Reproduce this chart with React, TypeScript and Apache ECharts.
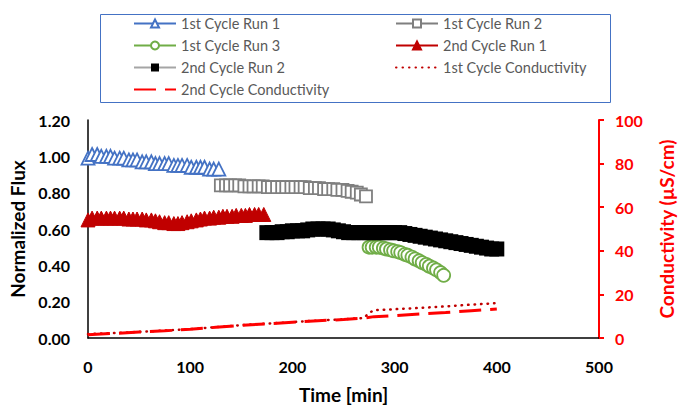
import React, { useEffect, useRef } from "react";
import * as echarts from "echarts";

// ---- Data ----
const run1Times = [0, 4, 9, 13, 18, 22, 26, 31, 35, 40, 44, 48, 53, 57, 62, 66, 70, 75, 79, 84, 88, 92, 97, 101, 106, 110, 114, 119, 123, 128];
const run1Flux = [0.99, 1.01, 1.01, 1.0, 1.0, 1.0, 0.99, 0.99, 0.99, 0.98, 0.98, 0.98, 0.97, 0.97, 0.97, 0.96, 0.96, 0.96, 0.96, 0.95, 0.95, 0.95, 0.95, 0.94, 0.94, 0.94, 0.94, 0.93, 0.93, 0.93];

const run2Times = [130, 135, 139, 144, 148, 153, 158, 162, 167, 171, 176, 180, 185, 190, 194, 199, 203, 208, 212, 217, 222, 226, 231, 235, 240, 244, 249, 254, 258, 263, 267, 272];
const run2Flux = [0.84, 0.84, 0.84, 0.84, 0.84, 0.835, 0.835, 0.835, 0.835, 0.835, 0.83, 0.83, 0.83, 0.83, 0.83, 0.83, 0.83, 0.83, 0.83, 0.825, 0.825, 0.825, 0.82, 0.82, 0.82, 0.815, 0.815, 0.81, 0.805, 0.8, 0.79, 0.78];

const run3Times = [275, 278, 282, 285, 289, 292, 296, 299, 303, 306, 310, 313, 317, 320, 324, 327, 331, 334, 338, 341, 345, 348];
const run3Flux = [0.5, 0.5, 0.5, 0.5, 0.495, 0.49, 0.485, 0.48, 0.475, 0.47, 0.46, 0.455, 0.445, 0.435, 0.425, 0.415, 0.405, 0.395, 0.385, 0.375, 0.36, 0.345];

const run4Times = [0, 4, 9, 13, 18, 22, 26, 31, 35, 40, 44, 48, 53, 57, 62, 66, 70, 75, 79, 84, 88, 92, 97, 101, 106, 110, 114, 119, 123, 128, 132, 136, 141, 145, 150, 154, 158, 163, 167, 172];
const run4Flux = [0.65, 0.66, 0.66, 0.66, 0.66, 0.66, 0.66, 0.66, 0.66, 0.655, 0.655, 0.655, 0.655, 0.65, 0.65, 0.645, 0.64, 0.635, 0.635, 0.63, 0.63, 0.635, 0.64, 0.645, 0.65, 0.655, 0.66, 0.66, 0.665, 0.665, 0.67, 0.67, 0.67, 0.675, 0.675, 0.675, 0.68, 0.68, 0.68, 0.68];

const run5Times = [175, 180, 185, 190, 195, 200, 205, 210, 215, 220, 225, 230, 235, 240, 245, 250, 255, 260, 265, 270, 275, 280, 285, 290, 295, 300, 305, 310, 315, 320, 325, 330, 335, 340, 345, 350, 355, 360, 365, 370, 375, 380, 385, 390, 395, 400];
const run5Flux = [0.58, 0.58, 0.58, 0.585, 0.585, 0.59, 0.59, 0.59, 0.595, 0.6, 0.6, 0.6, 0.6, 0.595, 0.59, 0.585, 0.58, 0.58, 0.58, 0.58, 0.58, 0.58, 0.58, 0.58, 0.58, 0.58, 0.58, 0.575, 0.57, 0.565, 0.56, 0.555, 0.55, 0.545, 0.54, 0.535, 0.53, 0.525, 0.52, 0.515, 0.51, 0.505, 0.5, 0.495, 0.49, 0.49];

const cond1Times = [0, 25, 50, 75, 100, 125, 150, 175, 200, 225, 250, 270, 275, 280, 300, 325, 350, 375, 400];
const cond1Values = [1.8, 2.3, 2.8, 3.4, 4.1, 5.0, 5.9, 6.6, 7.3, 8.0, 8.6, 9.2, 11.5, 12.8, 13.2, 13.8, 14.5, 15.3, 16.0];

const cond2Times = [0, 25, 50, 75, 100, 125, 150, 175, 200, 225, 250, 270, 280, 300, 325, 350, 375, 400];
const cond2Values = [1.5, 2.1, 2.7, 3.3, 4.0, 4.9, 5.8, 6.5, 7.2, 7.9, 8.5, 9.1, 9.8, 10.3, 11.0, 11.7, 12.5, 13.3];

const seriesNames = [
  "1st Cycle Run 1",
  "1st Cycle Run 2",
  "1st Cycle Run 3",
  "2nd Cycle Run 1",
  "2nd Cycle Run 2",
  "1st Cycle Conductivity",
  "2nd Cycle Conductivity",
];

const xTicks = { min: 0, max: 500, interval: 100 };
const fluxTicks = { min: 0, max: 1.2, interval: 0.2 };
const condTicks = { min: 0, max: 100, interval: 20 };

const pairs = (xs: number[], ys: number[]) => xs.map((x, i) => [x, ys[i]]);

const FONT = "Lato, 'Open Sans', sans-serif";

export default function App() {
  const ref = useRef<HTMLDivElement>(null);

  useEffect(() => {
    if (!ref.current) return;
    const chart = echarts.init(ref.current, undefined, { renderer: "svg" });

    const legendCommon = {
      orient: "vertical" as const,
      top: 16,
      padding: 0,
      itemWidth: 42,
      itemHeight: 10,
      itemGap: 7,
      textStyle: { color: "#595959", fontSize: 14.5, fontFamily: FONT, lineHeight: 15 },
    };

    const option: any = {
      animation: false,
      backgroundColor: "#ffffff",
      textStyle: { fontFamily: FONT },
      grid: { left: 88, right: 83, top: 120, bottom: 67, containLabel: false, outerBoundsMode: "none" },
      legend: [
        { ...legendCommon, left: 133, data: [seriesNames[0], seriesNames[2], seriesNames[4], seriesNames[6]] },
        { ...legendCommon, left: 395, data: [seriesNames[1], seriesNames[3], seriesNames[5]] },
      ],
      graphic: [
        {
          type: "rect",
          left: 98,
          top: 12,
          shape: { width: 510, height: 88 },
          style: { fill: "none", stroke: "#4472C4", lineWidth: 1 },
          silent: true,
        },
      ],
      xAxis: {
        type: "value",
        ...xTicks,
        name: "Time [min]",
        nameLocation: "middle",
        nameGap: 47,
        nameTextStyle: { fontSize: 19, fontWeight: "bold", color: "#000", fontFamily: FONT },
        axisLine: { show: true, onZero: false, lineStyle: { color: "#000", width: 1.5 } },
        axisTick: { show: false },
        splitLine: { show: false },
        axisLabel: { fontSize: 16, fontWeight: "bold", color: "#000", margin: 20, fontFamily: FONT },
      },
      yAxis: [
        {
          type: "value",
          ...fluxTicks,
          position: "left",
          name: "Normalized Flux",
          nameLocation: "middle",
          nameGap: 60,
          nameTextStyle: { fontSize: 19, fontWeight: "bold", color: "#000", fontFamily: FONT },
          axisLine: { show: true, lineStyle: { color: "#000", width: 1.5 } },
          axisTick: { show: false },
          splitLine: { show: false },
          axisLabel: {
            fontSize: 16,
            fontWeight: "bold",
            color: "#000",
            margin: 18,
            fontFamily: FONT,
            formatter: (v: number) => v.toFixed(2),
          },
        },
        {
          type: "value",
          ...condTicks,
          position: "right",
          name: "Conductivity (µS/cm)",
          nameLocation: "middle",
          nameGap: 58,
          nameTextStyle: { fontSize: 19, fontWeight: "bold", color: "#FF0000", fontFamily: FONT },
          axisLine: { show: true, lineStyle: { color: "#FF0000", width: 2 } },
          axisTick: { show: true, inside: false, length: 5, lineStyle: { color: "#FF0000", width: 2 } },
          splitLine: { show: false },
          axisLabel: { fontSize: 16, fontWeight: "bold", color: "#FF0000", margin: 16, fontFamily: FONT },
        },
      ],
      series: [
        {
          name: seriesNames[0],
          type: "line",
          data: pairs(run1Times, run1Flux),
          symbol: "triangle",
          symbolSize: 13,
          lineStyle: { color: "#4472C4", width: 2 },
          itemStyle: { color: "#ffffff", borderColor: "#4472C4", borderWidth: 1.8 },
        },
        {
          name: seriesNames[1],
          type: "line",
          data: pairs(run2Times, run2Flux),
          symbol: "rect",
          symbolSize: 12,
          lineStyle: { color: "#7F7F7F", width: 2 },
          itemStyle: { color: "#ffffff", borderColor: "#7F7F7F", borderWidth: 1.8 },
        },
        {
          name: seriesNames[2],
          type: "line",
          data: pairs(run3Times, run3Flux),
          symbol: "circle",
          symbolSize: 13,
          lineStyle: { color: "#70AD47", width: 2 },
          itemStyle: { color: "#ffffff", borderColor: "#70AD47", borderWidth: 1.8 },
        },
        {
          name: seriesNames[3],
          type: "line",
          data: pairs(run4Times, run4Flux),
          symbol: "triangle",
          symbolSize: 14,
          lineStyle: { color: "#C00000", width: 2 },
          itemStyle: { color: "#C00000", borderColor: "#C00000", borderWidth: 1 },
        },
        {
          name: seriesNames[4],
          type: "line",
          data: pairs(run5Times, run5Flux),
          symbol: "rect",
          symbolSize: 15,
          lineStyle: { color: "#A5A5A5", width: 2 },
          itemStyle: { color: "#000000", borderColor: "#000000", borderWidth: 0 },
        },
        {
          name: seriesNames[5],
          type: "line",
          yAxisIndex: 1,
          data: pairs(cond1Times, cond1Values),
          symbol: "none",
          lineStyle: { color: "#C00000", width: 2.5, type: [0.5, 6], cap: "round" },
          itemStyle: { color: "#C00000", opacity: 0 },
        },
        {
          name: seriesNames[6],
          type: "line",
          yAxisIndex: 1,
          data: pairs(cond2Times, cond2Values),
          symbol: "none",
          lineStyle: { color: "#FF0000", width: 3, type: [22, 9] },
          itemStyle: { color: "#FF0000", opacity: 0 },
        },
      ],
    };

    chart.setOption(option);
    return () => chart.dispose();
  }, []);

  return (
    <div
      ref={ref}
      style={{ position: "fixed", left: 0, top: 0, width: 682, height: 405, background: "#fff" }}
    />
  );
}
